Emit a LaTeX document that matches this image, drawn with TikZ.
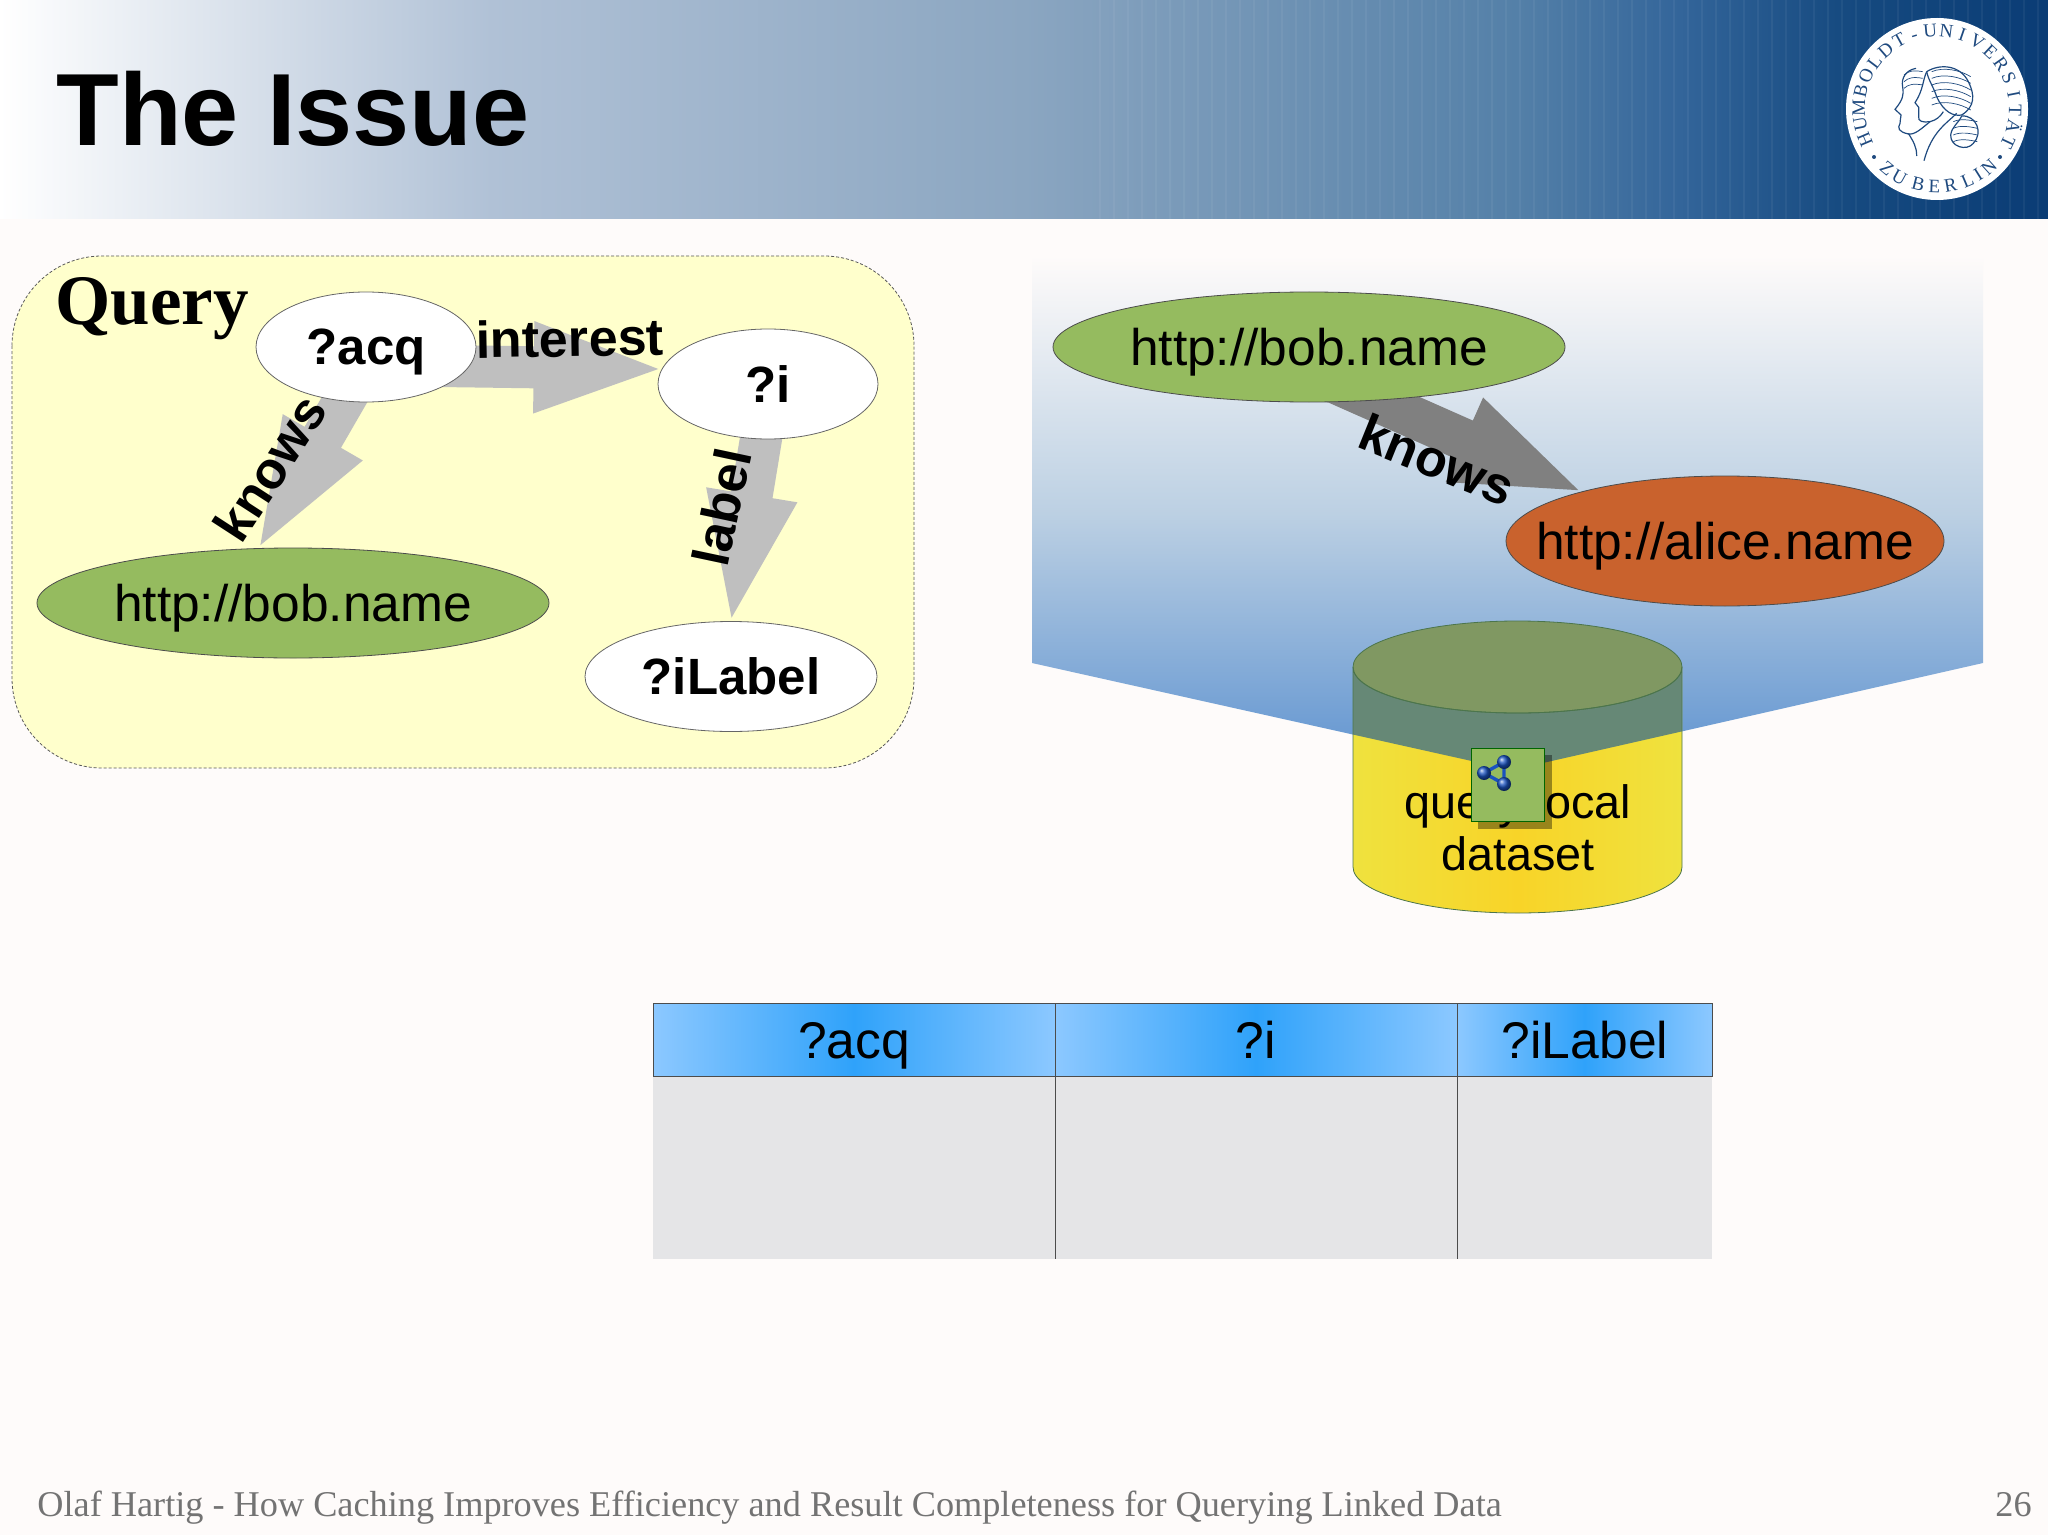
\documentclass[tikz,border=0pt]{standalone}
\usepackage{fontspec}
\setmainfont{Liberation Sans}
\newfontfamily\seriffont{Liberation Serif}
\usetikzlibrary{shapes.geometric,arrows.meta}
\pgfdeclarelayer{backdrop}
\pgfdeclarelayer{links}
\pgfsetlayers{backdrop,links,main}
\definecolor{pagebg}{HTML}{FEFBFA}
\definecolor{nodegreen}{HTML}{95BB5F}
\definecolor{nodeorange}{HTML}{C9622D}
\definecolor{querybg}{HTML}{FFFFCC}
\definecolor{hublue}{HTML}{1F4A7F}
\definecolor{molblue}{HTML}{1A52C0}
\definecolor{HubA}{HTML}{B0C1D6}
\definecolor{HubB}{HTML}{8BA6C1}
\definecolor{HubC}{HTML}{5480A8}
\definecolor{HubD}{HTML}{33659A}
\definecolor{HubE}{HTML}{164A80}
\definecolor{HubF}{HTML}{0A3C75}
\pgfdeclarehorizontalshading{headfade}{100bp}{color(0bp)=(white); color(25bp)=(white); color(37bp)=(HubA); color(50bp)=(HubB); color(62bp)=(HubC); color(66bp)=(HubD); color(70bp)=(HubE); color(75bp)=(HubF); color(100bp)=(HubF)}
\definecolor{SkyA}{HTML}{BCD0E3}
\definecolor{SkyB}{HTML}{5F93D0}
\pgfdeclareverticalshading{skyfade}{100bp}{color(0bp)=(SkyB); color(25bp)=(SkyB); color(50bp)=(SkyA); color(75bp)=(pagebg); color(100bp)=(pagebg)}
\definecolor{CellA}{HTML}{8CC8FF}
\definecolor{CellB}{HTML}{2FA2FA}
\pgfdeclarehorizontalshading{cellfade}{100bp}{color(0bp)=(CellA); color(25bp)=(CellA); color(50bp)=(CellB); color(75bp)=(CellA); color(100bp)=(CellA)}
\definecolor{CylA}{HTML}{EFE23E}
\definecolor{CylB}{HTML}{F8D428}
\pgfdeclarehorizontalshading{cylfade}{100bp}{color(0bp)=(CylA); color(25bp)=(CylA); color(50bp)=(CylB); color(75bp)=(CylA); color(100bp)=(CylA)}
\definecolor{tablebody}{HTML}{E5E5E7}
\newcommand{\fsz}[1]{\fontsize{#1}{#1}\selectfont}
\begin{document}
\begin{tikzpicture}[x=0.5pt,y=-0.5pt,
  oval/.style = {draw=black!60,ellipse,inner sep=0pt,minimum width=110pt,minimum height=55pt,text depth=0pt,font=\fsz{25.5pt}\bfseries,fill=white},
  uri/.style = {oval,draw=black!70,fill=nodegreen,minimum width=256pt,inner xsep=-5pt,font=\fsz{25.75pt}},
  link/.style = {line width=21pt,color=#1,shorten >=-4pt,-{Triangle[length=68pt,width=40pt]}},
  edgetext/.style = {font=\fsz{26pt}\bfseries,inner sep=0pt},
  cell/.style = {font=\fsz{25.8pt},inner sep=0pt,text depth=0pt},
  seal/.style = {font=\seriffont\fsz{9.5pt},text=hublue,inner sep=0pt,anchor=base},
  face/.style = {draw=hublue,line width=0.6pt},
  molball/.style = {circle,inner sep=0pt,minimum size=7pt,ball color=molblue}]
  \useasboundingbox (0,0) rectangle (2048,1535);

  % page and banner
  \begin{pgfonlayer}{backdrop}
    \fill[pagebg] (0,0) rectangle (2048,1535);
    \shade[shading=headfade] (0,0) rectangle (2048,219);
    \foreach \sx in {1100,1114,...,2040}
      \draw[white,opacity=0.05,line width=1pt] (\sx,0) -- (\sx,219);
    \draw[fill=querybg,draw=black!65,line width=0.4pt,dash pattern=on 1.5pt off 1pt,rounded corners=45pt] (12,256) rectangle (914,768);
    \shade[shading=skyfade] (1032,256) -- (1983,256) -- (1983,663) -- (1512,770) -- (1032,663) -- cycle;
  \end{pgfonlayer}

  \node[font=\fsz{51.3pt}\bfseries,inner sep=0pt,anchor=base west](title) at (56,146){The Issue};

  % seal
  \node[circle,fill=white,minimum size=91pt,inner sep=0pt](seal) at (1937,109){};
  \foreach \ch [count=\n] in {H,U,M,B,O,L,D,T,-,U,N,I,V,E,R,S,I,T,Ä,T}
    \node[seal,rotate={203-(\n-1)*12-90}](up\n) at ({1937+72*cos(203-(\n-1)*12)},{109-72*sin(203-(\n-1)*12)}){\ch};
  \foreach \ch/\ang [count=\n] in {Z/230,U/241,B/256,E/268,R/280,L/293,I/302,N/312}
    \node[seal,rotate=\ang+90](down\n) at ({1937+84*cos(\ang)},{109-84*sin(\ang)}){\ch};
  \fill[hublue] (1874,157) circle (1pt) (2000,157) circle (1pt);
  \begin{scope}[shift={(1780,0)},x=0.16667pt,y=-0.16667pt]
    \draw[face] (408,205) .. controls (380,210) and (362,232) .. (368,262) .. controls (372,285) and (368,300) .. (345,328) -- (363,345) .. controls (358,355) and (364,362) .. (360,370) .. controls (352,385) and (355,395) .. (385,402) .. controls (405,405) and (425,385) .. (450,365);
    \draw[face] (385,400) .. controls (400,425) and (410,440) .. (410,468);
    \draw[face] (440,215) .. controls (428,240) and (430,270) .. (405,308) -- (416,322) .. controls (412,332) and (420,338) .. (416,348) .. controls (412,365) and (430,368) .. (450,365) .. controls (470,360) and (480,350) .. (490,335);
    \draw[face] (440,215) .. controls (480,190) and (540,195) .. (565,245) .. controls (585,285) and (585,320) .. (545,345) .. controls (520,350) and (490,335) .. (470,290) .. controls (460,260) and (445,240) .. (440,215);
    \draw[face] (530,340) .. controls (500,370) and (455,395) .. (432,482);
    \draw[face] (545,348) .. controls (590,345) and (610,400) .. (580,430) .. controls (560,455) and (510,440) .. (512,405) .. controls (515,380) and (535,370) .. (545,348);
    \foreach \hy in {215,235,255,275,295,315}
      \draw[face,line width=0.35pt] (455,\hy) .. controls (490,{\hy-15}) and (540,{\hy-5}) .. (572,{\hy+15});
    \foreach \hy in {365,385,405,425}
      \draw[face,line width=0.35pt] (520,\hy) .. controls (540,{\hy-10}) and (570,{\hy-5}) .. (592,\hy);
    \foreach \hy in {225,245,265}
      \draw[face,line width=0.35pt] (372,\hy) .. controls (385,{\hy-12}) and (400,{\hy-15}) .. (428,{\hy-10});
  \end{scope}

  % query graph
  \node[font=\seriffont\fsz{35.5pt}\bfseries,inner sep=0pt,anchor=base west](querytitle) at (55,325){Query};
  \node[oval](acq) at (366,347){?acq};
  \node[oval](i) at (768,384){?i};
  \node[oval,minimum width=146pt](ilabel) at (731,676.5){?iLabel};
  \node[uri](bob) at (293,603){http://bob.name};

  \begin{pgfonlayer}{links}
    \path
    ([xshift=4.5pt]acq.center) edge[link=black!25] (bob.122)
    ([yshift=-9pt]acq.center) edge[link=black!25] (i.172)
    ([xshift=1pt]i.center) edge[link=black!25] (ilabel.north)
    ;
  \end{pgfonlayer}

  \node[edgetext,rotate=1](interest) at (570,338){interest};
  \node[edgetext,rotate=57](knowsq) at (270,468){knows};
  \node[edgetext,rotate=78](labelq) at (722,507){label};

  % data
  \node[uri](bobdata) at (1309,347){http://bob.name};
  \node[uri,fill=nodeorange,minimum width=219pt,minimum height=65pt,inner xsep=-20pt](alice) at (1725,541){http://alice.name};
  \begin{pgfonlayer}{links}
    \path ([yshift=-12pt]bobdata.center) edge[link=black!50] (alice.161);
  \end{pgfonlayer}
  \node[edgetext,rotate=-22](knowsd) at (1437,460){knows};

  % dataset
  \shade[shading=cylfade] (1353,667) -- (1353,867) arc[start angle=180,end angle=360,x radius=164.5,y radius=-46] -- (1682,667) arc[start angle=0,end angle=180,x radius=164.5,y radius=46] -- cycle;
  \begin{scope}
    \clip (1032,256) -- (1983,256) -- (1983,663) -- (1512,770) -- (1032,663) -- cycle;
    \fill[color={rgb,255:red,102;green,136;blue,118}] (1353,667) rectangle (1682,800);
    \fill[color={rgb,255:red,128;green,152;blue,98}] (1517.5,667) ellipse [x radius=164.5,y radius=46];
  \end{scope}
  \draw[draw=black!60!green!40!gray,line width=0.4pt] (1353,667) -- (1353,867) arc[start angle=180,end angle=360,x radius=164.5,y radius=-46] -- (1682,667) arc[start angle=0,end angle=180,x radius=164.5,y radius=46];
  \draw[draw=black!60!green!40!gray,line width=0.4pt] (1517.5,667) ellipse [x radius=164.5,y radius=46];
  \node[font=\fsz{23.4pt},inner sep=0pt,anchor=base](dsline1) at (1518,818){query local};
  \node[font=\fsz{23.4pt},inner sep=0pt,anchor=base](dsline2) at (1518,870){dataset};

  % molecule box
  \fill[black,opacity=0.38] (1478,755) rectangle (1552,829);
  \node[draw=black!60!green,fill=nodegreen,minimum size=36.5pt,inner sep=0pt,anchor=north west,line width=0.4pt](molbox) at (1471,748){};
  \draw[molblue,line width=1.7pt] (1504,762) -- (1484,773) -- (1504,784) -- cycle;
  \node[molball](m1) at (1504,762){};
  \node[molball](m2) at (1484,773){};
  \node[molball](m3) at (1504,784){};

  % result table
  \fill[tablebody] (653,1076) rectangle (1712,1259);
  \foreach \xa/\xb in {653/1055,1055/1457,1457/1712}
    \shade[shading=cellfade,draw=black!70,line width=0.4pt] (\xa,1003) rectangle (\xb,1076);
  \draw[black!70,line width=0.4pt] (1055,1076) -- (1055,1259) (1457,1076) -- (1457,1259);
  \node[cell](colacq) at (854,1040){?acq};
  \node[cell](coli) at (1256,1040){?i};
  \node[cell](colilabel) at (1585,1040){?iLabel};

  % footer
  \node[font=\seriffont\fsz{18.13pt},text=black!55,inner sep=0pt,anchor=base west](foot) at (37,1516){Olaf Hartig - How Caching Improves Efficiency and Result Completeness for Querying Linked Data};
  \node[font=\seriffont\fsz{18.13pt},text=black!55,inner sep=0pt,anchor=base east](pageno) at (2032,1516){26};
\end{tikzpicture}
\end{document}
